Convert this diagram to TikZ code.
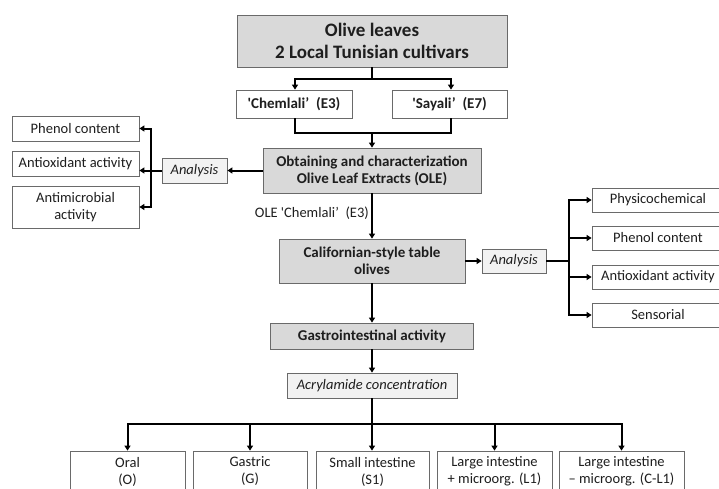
\documentclass[tikz,border=0pt]{standalone}
\usepackage{fontspec}
\setmainfont{Carlito}[Ligatures=TeXOff]
\usetikzlibrary{arrows.meta}
\definecolor{boxgray}{HTML}{D9D9D9}
\definecolor{boxlight}{HTML}{F2F2F2}
\definecolor{edgegray}{HTML}{6A6A6A}
\definecolor{txt}{HTML}{1E1E1E}
\begin{document}
\begin{tikzpicture}[x=1pt,y=-1pt,
  base/.style={draw=edgegray,line width=0.8pt,inner sep=0pt,align=center,text=txt,font=\fontsize{14.5}{17}\selectfont},
  graybox/.style={base,fill=boxgray,font=\fontsize{15}{17}\selectfont\bfseries},
  lightbox/.style={base,fill=boxlight,font=\fontsize{14.5}{17}\selectfont\itshape},
  whitebox/.style={base,fill=white},
  conn/.style={line width=2pt,draw=black},
  arr/.style={conn,-{Triangle[width=6pt,length=5pt]}},
]
\useasboundingbox (0,0) rectangle (719,488);
\begin{scope}
\clip (0,0) rectangle (719,488);
% main column
\node[graybox,minimum width=270pt,minimum height=52pt,font=\fontsize{19}{22}\selectfont\bfseries] (top) at (372,41) {Olive leaves\\2 Local Tunisian cultivars};
\node[whitebox,minimum width=116pt,minimum height=28pt,font=\fontsize{15}{17}\selectfont\bfseries] (chem) at (294,104) {'Chemlali’\ \ (E3)};
\node[whitebox,minimum width=115pt,minimum height=28pt,font=\fontsize{15}{17}\selectfont\bfseries] (say) at (449.5,104) {'Sayali’\ \ (E7)};
\node[graybox,minimum width=218pt,minimum height=45pt] (ole) at (372,170.5) {Obtaining and characterization\\Olive Leaf Extracts (OLE)};
\node[lightbox,minimum width=65pt,minimum height=25pt] (an1) at (194.5,170.5) {Analysis};
\node[whitebox,minimum width=127pt,minimum height=25pt] (l1) at (75.5,128.5) {Phenol content};
\node[whitebox,minimum width=127pt,minimum height=25pt] (l2) at (75.5,163.5) {Antioxidant activity};
\node[whitebox,minimum width=127pt,minimum height=42pt] (l3) at (75.5,207) {Antimicrobial\\activity};
\node[anchor=east,inner sep=0pt,text=txt,font=\fontsize{14.5}{17}\selectfont] (olelab) at (369,213) {OLE 'Chemlali’\ \ (E3)};
\node[graybox,minimum width=186pt,minimum height=44pt] (cal) at (372,261) {Californian-style table\\olives};
\node[lightbox,minimum width=64pt,minimum height=24pt] (an2) at (514,261) {Analysis};
\node[whitebox,minimum width=132pt,minimum height=24pt] (r1) at (658,200) {Physicochemical};
\node[whitebox,minimum width=132pt,minimum height=24pt] (r2) at (658,238) {Phenol content};
\node[whitebox,minimum width=132pt,minimum height=24pt] (r3) at (658,277) {Antioxidant activity};
\node[whitebox,minimum width=132pt,minimum height=24pt] (r4) at (658,315) {Sensorial};
\node[graybox,minimum width=203pt,minimum height=26pt] (gas) at (372,336) {Gastrointestinal activity};
\node[lightbox,minimum width=170pt,minimum height=25pt] (acr) at (372,385.5) {Acrylamide concentration};
\node[whitebox,minimum width=115pt,minimum height=41pt] (b1) at (127.5,471.5) {Oral\\(O)};
\node[whitebox,minimum width=114pt,minimum height=41pt] (b2) at (250,471.5) {Gastric\\(G)};
\node[whitebox,minimum width=113pt,minimum height=41pt] (b3) at (372.5,471.5) {Small intestine\\(S1)};
\node[whitebox,minimum width=115pt,minimum height=41pt] (b4) at (494.5,471.5) {Large intestine\\+ microorg. (L1)};
\node[whitebox,minimum width=125pt,minimum height=41pt] (b5) at (621.5,471.5) {Large intestine\\– microorg. (C-L1)};
% coordinates
\coordinate (s1) at (372,79);
\coordinate (m1) at (372,133);
\coordinate (lb) at (151,170.5);
\coordinate (rb) at (569,261);
\coordinate (bb) at (372,424);
% connectors
\draw[conn] (top.south) -- (s1);
\draw[arr] (s1) -| (chem.north -| 295,0);
\draw[arr] (s1) -| (say.north -| 451,0);
\draw[conn] (chem.south -| 295,0) |- (m1);
\draw[conn] (say.south -| 451,0) |- (m1);
\draw[arr] (m1) -- (ole.north);
\draw[arr] (ole.west) -- (an1.east);
\draw[conn] (an1.west) -- (lb);
\draw[arr] (lb) |- (l1.east);
\draw[arr] (lb) -- (l2.east |- lb);
\draw[arr] (lb) |- (l3.east);
\draw[arr] (ole.south) -- (cal.north);
\draw[arr] (cal.east) -- (an2.west);
\draw[conn] (an2.east) -- (rb);
\draw[arr] (rb) |- (r1.west);
\draw[arr] (rb) |- (r2.west);
\draw[arr] (rb) |- (r3.west);
\draw[arr] (rb) |- (r4.west);
\draw[arr] (cal.south) -- (gas.north);
\draw[arr] (gas.south) -- (acr.north);
\draw[conn] (acr.south) -- (bb);
\draw[arr] (bb) -| (b1.north);
\draw[arr] (bb) -| (b2.north);
\draw[arr] (bb) -- (b3.north -| bb);
\draw[arr] (bb) -| (b4.north);
\draw[arr] (bb) -| (b5.north);
\end{scope}
\end{tikzpicture}
\end{document}
